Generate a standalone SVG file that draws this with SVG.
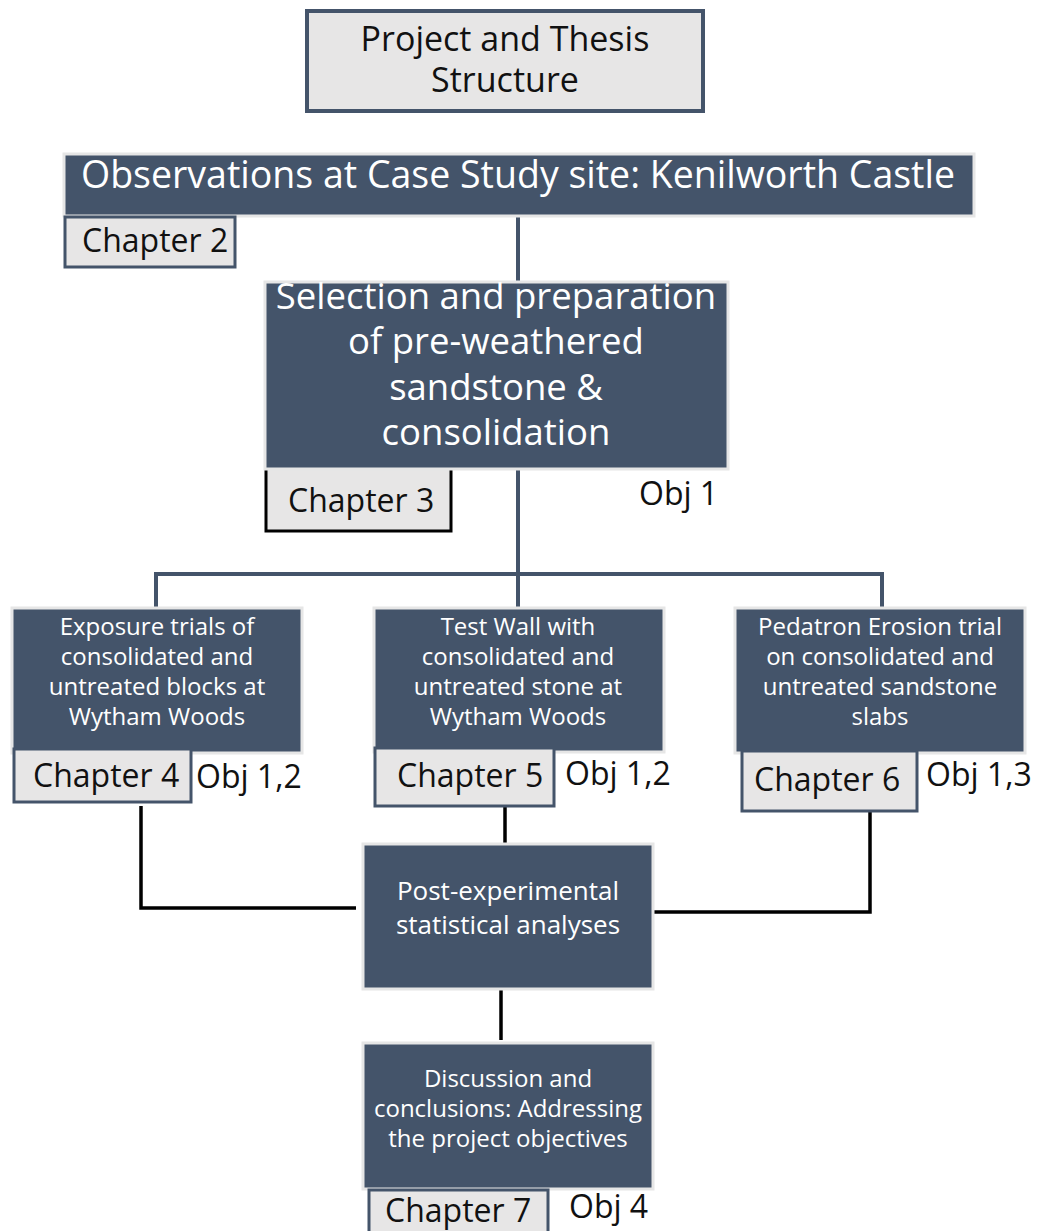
<svg xmlns="http://www.w3.org/2000/svg" width="1041" height="1231" viewBox="0 0 1041 1231">
<style>
text{font-family:"Open Sans","Noto Sans","DejaVu Sans",sans-serif}
.dark{fill:#44546a;stroke:#e6e6e6;stroke-width:3}
.chap{fill:#e7e6e6;stroke:#44546a;stroke-width:3}
.wt{fill:#ffffff;text-anchor:middle}
.bt{fill:#111111}
.ch{font-size:32px;fill:#111111}
.ob{font-size:32px;fill:#111111}
.bl{stroke:#44546a;stroke-width:4;fill:none}
.bk{stroke:#000000;stroke-width:3.5;fill:none}
</style>
<rect width="1041" height="1231" fill="#ffffff"/>
<g id="connectors">
<line class="bl" x1="518" y1="216" x2="518" y2="282"/>
<line class="bl" x1="518" y1="470" x2="518" y2="575"/>
<polyline class="bl" points="156,607 156,574 882,574 882,607" stroke-width="3.5"/>
<line class="bl" x1="518" y1="574" x2="518" y2="607"/>
<polyline class="bk" points="141,806 141,908 356,908"/>
<line class="bk" x1="505" y1="805" x2="505" y2="845"/>
<polyline class="bk" points="644,912 870,912 870,810"/>
<line class="bk" x1="501" y1="987" x2="501" y2="1040"/>
</g>
<g id="title">
<rect x="307" y="11" width="396" height="100" fill="#e7e6e6" stroke="#44546a" stroke-width="4"/>
<text x="505" y="51" font-size="34" text-anchor="middle" class="bt">Project and Thesis</text>
<text x="505" y="92" font-size="34" text-anchor="middle" class="bt">Structure</text>
</g>
<g id="observations">
<rect class="dark" x="64" y="154" width="910" height="62"/>
<text x="518" y="188" font-size="37.5" class="wt">Observations at Case Study site: Kenilworth Castle</text>
<rect class="chap" x="65" y="217" width="170" height="50" stroke-width="2.5"/>
<text x="82" y="252" class="ch">Chapter 2</text>
</g>
<g id="selection">
<rect x="266" y="466" width="185" height="65" fill="#e7e6e6"/>
<path d="M266,466 V531 H451 V466" fill="none" stroke="#000" stroke-width="3"/>
<rect class="dark" x="265" y="282" width="463" height="187"/>
<text x="496" y="309" font-size="36.5" class="wt">Selection and preparation</text>
<text x="496" y="354" font-size="36.5" class="wt">of pre-weathered</text>
<text x="496" y="400" font-size="36.5" class="wt">sandstone &amp;</text>
<text x="496" y="445" font-size="36.5" class="wt">consolidation</text>
<text x="288" y="512" class="ch">Chapter 3</text>
<text x="639" y="505" class="ob">Obj 1</text>
</g>
<g id="ch4">
<rect class="dark" x="12" y="608" width="290" height="145"/>
<text x="157" y="635" font-size="24" class="wt">Exposure trials of</text>
<text x="157" y="665" font-size="24" class="wt">consolidated and</text>
<text x="157" y="695" font-size="24" class="wt">untreated blocks at</text>
<text x="157" y="725" font-size="24" class="wt">Wytham Woods</text>
<rect class="chap" x="14" y="749" width="177" height="53"/>
<text x="33" y="787" class="ch">Chapter 4</text>
<text x="196" y="788" class="ob">Obj 1,2</text>
</g>
<g id="ch5">
<rect class="dark" x="374" y="608" width="290" height="144"/>
<text x="518" y="635" font-size="24" class="wt">Test Wall with</text>
<text x="518" y="665" font-size="24" class="wt">consolidated and</text>
<text x="518" y="695" font-size="24" class="wt">untreated stone at</text>
<text x="518" y="725" font-size="24" class="wt">Wytham Woods</text>
<rect class="chap" x="375" y="748" width="179" height="58"/>
<text x="397" y="787" class="ch">Chapter 5</text>
<text x="565" y="785" class="ob">Obj 1,2</text>
</g>
<g id="ch6">
<rect class="dark" x="735" y="608" width="290" height="145"/>
<text x="880" y="635" font-size="24" class="wt">Pedatron Erosion trial</text>
<text x="880" y="665" font-size="24" class="wt">on consolidated and</text>
<text x="880" y="695" font-size="24" class="wt">untreated sandstone</text>
<text x="880" y="725" font-size="24" class="wt">slabs</text>
<rect class="chap" x="742" y="751" width="175" height="60"/>
<text x="754" y="791" class="ch">Chapter 6</text>
<text x="926" y="786" class="ob">Obj 1,3</text>
</g>
<g id="analyses">
<rect class="dark" x="363" y="844" width="290" height="145"/>
<text x="508" y="900" font-size="26" class="wt">Post-experimental</text>
<text x="508" y="934" font-size="26" class="wt">statistical analyses</text>
</g>
<g id="ch7">
<rect class="dark" x="363" y="1043" width="290" height="146"/>
<text x="508" y="1087" font-size="24" class="wt">Discussion and</text>
<text x="508" y="1117" font-size="24" class="wt">conclusions: Addressing</text>
<text x="508" y="1147" font-size="24" class="wt">the project objectives</text>
<rect class="chap" x="369" y="1190" width="179" height="50" stroke="#44546a"/>
<text x="385" y="1222" class="ch">Chapter 7</text>
<text x="569" y="1218" class="ob">Obj 4</text>
</g>
</svg>
